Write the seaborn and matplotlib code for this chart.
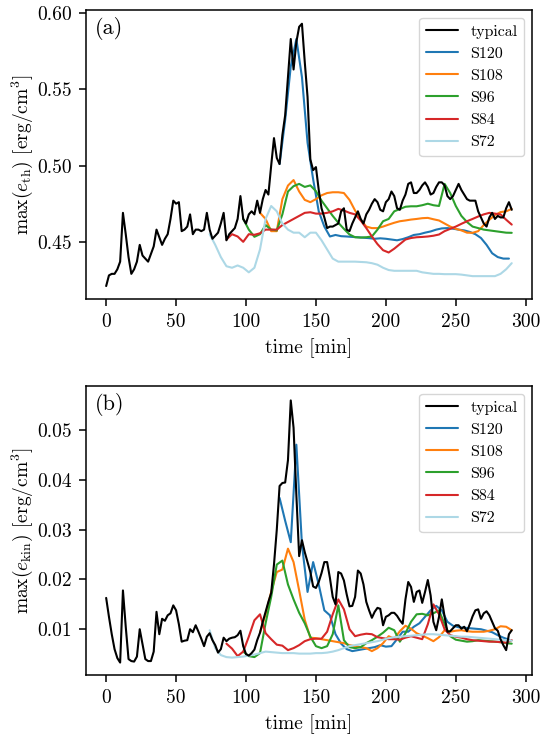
import numpy as np
import seaborn as sns
import matplotlib
matplotlib.use("Agg")
import matplotlib.pyplot as plt
from matplotlib.ticker import MultipleLocator, FormatStrFormatter

# time grids [min]
t_typical = np.arange(0, 292, 2)
t_s120 = np.arange(124, 292, 4)
t_s108 = np.arange(110, 292, 4)
t_s96 = np.arange(98, 292, 4)
t_s84 = np.arange(86, 292, 4)
t_s72 = np.arange(74, 292, 4)

# panel (a): max thermal energy density [erg/cm^3]
eth_typical = [
    0.421, 0.428, 0.429, 0.429, 0.432, 0.437, 0.469, 0.455, 0.440, 0.429,
    0.432, 0.437, 0.448, 0.441, 0.439, 0.437, 0.442, 0.447, 0.458, 0.453,
    0.448, 0.452, 0.455, 0.465, 0.477, 0.475, 0.476, 0.457, 0.458, 0.460,
    0.468, 0.455, 0.458, 0.458, 0.457, 0.458, 0.469, 0.458, 0.452, 0.454,
    0.456, 0.462, 0.469, 0.451, 0.455, 0.457, 0.459, 0.465, 0.480, 0.465,
    0.462, 0.468, 0.470, 0.468, 0.477, 0.469, 0.478, 0.484, 0.481, 0.500,
    0.518, 0.505, 0.501, 0.520, 0.533, 0.558, 0.583, 0.563, 0.581, 0.591,
    0.593, 0.568, 0.545, 0.504, 0.497, 0.499, 0.484, 0.472, 0.466, 0.459,
    0.460, 0.460, 0.461, 0.462, 0.470, 0.472, 0.458, 0.457, 0.462, 0.466,
    0.470, 0.465, 0.462, 0.468, 0.471, 0.475, 0.478, 0.476, 0.471, 0.470,
    0.476, 0.478, 0.483, 0.480, 0.472, 0.471, 0.477, 0.481, 0.488, 0.489,
    0.482, 0.482, 0.484, 0.487, 0.489, 0.486, 0.481, 0.482, 0.486, 0.489,
    0.489, 0.487, 0.480, 0.478, 0.480, 0.484, 0.488, 0.484, 0.481, 0.478,
    0.477, 0.477, 0.477, 0.470, 0.466, 0.462, 0.460, 0.466, 0.469, 0.465,
    0.467, 0.466, 0.466, 0.472, 0.476, 0.471,
]
eth_s120 = [
    0.501, 0.530, 0.565, 0.583, 0.558, 0.515, 0.491, 0.470, 0.460, 0.4535,
    0.4545, 0.4537, 0.4535, 0.4532, 0.453, 0.4527, 0.4524, 0.452, 0.4523, 0.452,
    0.4515, 0.451, 0.4518, 0.453, 0.4545, 0.455, 0.456, 0.4568, 0.458, 0.4588,
    0.459, 0.4586, 0.458, 0.4575, 0.4565, 0.455, 0.4525, 0.448, 0.4425, 0.440,
    0.439, 0.439,
]
eth_s108 = [
    0.469, 0.465, 0.457, 0.457, 0.478, 0.4869, 0.4905, 0.483, 0.4775, 0.476,
    0.478, 0.4805, 0.482, 0.4825, 0.4825, 0.482, 0.4775, 0.4705, 0.4645, 0.460,
    0.459, 0.459, 0.460, 0.4613, 0.4625, 0.4635, 0.464, 0.4646, 0.465, 0.4655,
    0.4657, 0.4648, 0.464, 0.462, 0.460, 0.4585, 0.4575, 0.456, 0.4559, 0.457,
    0.461, 0.4645, 0.4675, 0.4695, 0.470, 0.4716,
]
eth_s96 = [
    0.465, 0.458, 0.4533, 0.455, 0.461, 0.458, 0.4575, 0.468, 0.483, 0.4865,
    0.488, 0.486, 0.487, 0.4832, 0.477, 0.472, 0.467, 0.4625, 0.4585, 0.4548,
    0.453, 0.4528, 0.453, 0.4535, 0.458, 0.4635, 0.465, 0.470, 0.4715, 0.473,
    0.4733, 0.4733, 0.474, 0.475, 0.474, 0.4735, 0.488, 0.482, 0.4735, 0.467,
    0.463, 0.460, 0.459, 0.458, 0.4575, 0.457, 0.4565, 0.456, 0.4559,
]
eth_s84 = [
    0.4515, 0.455, 0.4535, 0.450, 0.455, 0.4546, 0.4556, 0.458, 0.458, 0.458,
    0.461, 0.463, 0.465, 0.467, 0.469, 0.4694, 0.4685, 0.4685, 0.469, 0.470,
    0.4716, 0.4705, 0.469, 0.468, 0.464, 0.459, 0.4535, 0.4485, 0.4445, 0.443,
    0.4455, 0.4485, 0.4515, 0.4525, 0.453, 0.4532, 0.4535, 0.454, 0.4548, 0.457,
    0.4585, 0.460, 0.4618, 0.4635, 0.465, 0.4666, 0.468, 0.469, 0.4685, 0.468,
    0.4645, 0.4613,
]
eth_s72 = [
    0.455, 0.448, 0.440, 0.434, 0.433, 0.4345, 0.433, 0.430, 0.433, 0.445,
    0.465, 0.4735, 0.470, 0.462, 0.458, 0.456, 0.456, 0.453, 0.456, 0.456,
    0.451, 0.445, 0.439, 0.437, 0.437, 0.437, 0.437, 0.4368, 0.4366, 0.436,
    0.435, 0.433, 0.4315, 0.431, 0.431, 0.431, 0.431, 0.431, 0.430, 0.4295,
    0.429, 0.429, 0.4288, 0.4288, 0.4288, 0.4285, 0.428, 0.4275, 0.4275, 0.4275,
    0.4275, 0.4275, 0.429, 0.432, 0.436,
]

# panel (b): max kinetic energy density [erg/cm^3]
ekin_typical = [
    0.0163, 0.0125, 0.0090, 0.0060, 0.0042, 0.0033, 0.0178, 0.0105, 0.0040, 0.0036,
    0.0035, 0.0045, 0.0100, 0.0070, 0.0040, 0.0036, 0.0036, 0.0055, 0.0135, 0.0090,
    0.0121, 0.0117, 0.0128, 0.0132, 0.0148, 0.0138, 0.0110, 0.0075, 0.0077, 0.0078,
    0.0100, 0.0094, 0.0108, 0.0095, 0.0081, 0.0066, 0.0085, 0.0092, 0.0078, 0.0068,
    0.0053, 0.0060, 0.0083, 0.0076, 0.0081, 0.0083, 0.0084, 0.0088, 0.0097, 0.0066,
    0.0050, 0.0047, 0.0052, 0.0059, 0.0078, 0.0093, 0.0115, 0.0135, 0.0155, 0.0173,
    0.0230, 0.0300, 0.0388, 0.0394, 0.0395, 0.0440, 0.0560, 0.0505, 0.0370, 0.0247,
    0.0279, 0.0255, 0.0235, 0.0215, 0.0186, 0.0183, 0.0195, 0.0213, 0.0235, 0.0235,
    0.0203, 0.0165, 0.0150, 0.0215, 0.0212, 0.0198, 0.0170, 0.0146, 0.0147, 0.0165,
    0.0218, 0.0212, 0.0190, 0.0155, 0.0138, 0.0123, 0.0135, 0.0143, 0.0141, 0.0108,
    0.0125, 0.0128, 0.0133, 0.0133, 0.0127, 0.0118, 0.0111, 0.0160, 0.0195, 0.0185,
    0.0155, 0.0175, 0.0178, 0.0153, 0.0175, 0.0199, 0.0168, 0.0115, 0.0098, 0.0125,
    0.0160, 0.0125, 0.0095, 0.0096, 0.0102, 0.0108, 0.0108, 0.0101, 0.0105, 0.0096,
    0.0110, 0.0126, 0.0138, 0.0140, 0.0121, 0.0132, 0.0136, 0.0128, 0.0115, 0.0102,
    0.0097, 0.0080, 0.0068, 0.0058, 0.0090, 0.0098,
]
ekin_s120 = [
    0.0364, 0.0318, 0.0275, 0.0471, 0.0270, 0.0175, 0.0235, 0.0190, 0.0138, 0.0128,
    0.0090, 0.0071, 0.0060, 0.0056, 0.0058, 0.0060, 0.0062, 0.0064, 0.0068, 0.0065,
    0.0066, 0.0080, 0.0095, 0.0095, 0.0105, 0.0112, 0.0125, 0.0138, 0.0147, 0.0138,
    0.0115, 0.0107, 0.0104, 0.0103, 0.0102, 0.0101, 0.0100, 0.0097, 0.0094, 0.0088,
    0.0083, 0.0079,
]
ekin_s108 = [
    0.0093, 0.0130, 0.0175, 0.0215, 0.0220, 0.0262, 0.0235, 0.0178, 0.0119, 0.0083,
    0.0082, 0.0080, 0.0078, 0.0076, 0.0074, 0.0072, 0.0068, 0.0066, 0.0064, 0.0062,
    0.0056, 0.0062, 0.0072, 0.0086, 0.0081, 0.0096, 0.0107, 0.0101, 0.0092, 0.0087,
    0.0082, 0.0076, 0.0084, 0.0098, 0.0095, 0.0097, 0.0098, 0.0096, 0.0095, 0.0095,
    0.0095, 0.0097, 0.0100, 0.0106, 0.0105, 0.0098,
]
ekin_s96 = [
    0.0055, 0.0046, 0.0044, 0.0052, 0.0112, 0.0165, 0.0230, 0.0238, 0.0190, 0.0160,
    0.0133, 0.0112, 0.0085, 0.0066, 0.0062, 0.0066, 0.0090, 0.0148, 0.0078, 0.0064,
    0.0062, 0.0064, 0.0072, 0.0078, 0.0085, 0.0093, 0.0103, 0.0098, 0.0075, 0.0092,
    0.0115, 0.0130, 0.0131, 0.0128, 0.0132, 0.0138, 0.0110, 0.0086, 0.0079, 0.0077,
    0.0075, 0.0076, 0.0078, 0.0077, 0.0076, 0.0075, 0.0074, 0.0072, 0.0071,
]
ekin_s84 = [
    0.0071, 0.0061, 0.0046, 0.0055, 0.0085, 0.0118, 0.0130, 0.0092, 0.0080, 0.0069,
    0.0067, 0.0058, 0.0062, 0.0068, 0.0076, 0.0080, 0.0081, 0.0081, 0.0095, 0.0130,
    0.0160, 0.0140, 0.0100, 0.0086, 0.0089, 0.0091, 0.0090, 0.0084, 0.0082, 0.0080,
    0.0080, 0.0079, 0.0083, 0.0086, 0.0083, 0.0080, 0.0110, 0.0150, 0.0130, 0.0100,
    0.0088, 0.0085, 0.0083, 0.0080, 0.0078, 0.0077, 0.0076, 0.0075, 0.0075, 0.0074,
    0.0073, 0.0078,
]
ekin_s72 = [
    0.0098, 0.0062, 0.0048, 0.0044, 0.0043, 0.0044, 0.0045, 0.0047, 0.0049, 0.0052,
    0.0055, 0.0054, 0.0053, 0.0052, 0.0052, 0.0052, 0.0051, 0.0051, 0.0051, 0.0052,
    0.0052, 0.0053, 0.0055, 0.0058, 0.0062, 0.0066, 0.0068, 0.0070, 0.0072, 0.0074,
    0.0076, 0.0079, 0.0082, 0.0084, 0.0085, 0.0086, 0.0087, 0.0088, 0.0089, 0.0090,
    0.0090, 0.0089, 0.0088, 0.0087, 0.0086, 0.0085, 0.0085, 0.0084, 0.0083, 0.0082,
    0.0081, 0.0080, 0.0079, 0.0078, 0.0077,
]

run_names = ["typical", "S120", "S108", "S96", "S84", "S72"]
run_colors = ["black", "#1f77b4", "#ff7f0e", "#2ca02c", "#d62728", "lightblue"]
run_times = [t_typical, t_s120, t_s108, t_s96, t_s84, t_s72]
eth_runs = [eth_typical, eth_s120, eth_s108, eth_s96, eth_s84, eth_s72]
ekin_runs = [ekin_typical, ekin_s120, ekin_s108, ekin_s96, ekin_s84, ekin_s72]

sns.set_style("ticks")
plt.rcParams.update({
    "font.family": "serif",
    "font.serif": ["cmr10"],
    "mathtext.fontset": "cm",
    "axes.unicode_minus": False,
    "axes.edgecolor": "black",
    "axes.labelcolor": "black",
    "text.color": "black",
    "xtick.color": "black",
    "ytick.color": "black",
    "axes.linewidth": 1.1,
    "xtick.major.size": 5,
    "ytick.major.size": 5,
    "xtick.major.width": 1.1,
    "ytick.major.width": 1.1,
    "xtick.major.pad": 5,
    "ytick.major.pad": 5,
    "axes.labelpad": 5,
    "axes.labelsize": 14,
    "xtick.labelsize": 14,
    "ytick.labelsize": 14,
})

fig, axes = plt.subplots(2, 1, figsize=(5.47, 7.42), dpi=100)
fig.subplots_adjust(left=0.157, right=0.9726, top=0.9865, bottom=0.0903, hspace=0.301)

panels = [
    (axes[0], eth_runs, "(a)", r"$\mathrm{max}(e_{\mathrm{th}})$ [erg/cm$^3$]", (0.4125, 0.602), 0.05),
    (axes[1], ekin_runs, "(b)", r"$\mathrm{max}(e_{\mathrm{kin}})$ [erg/cm$^3$]", (0.0008, 0.0589), 0.01),
]

for ax, runs, tag, ylab, ylim, ystep in panels:
    for i, (name, col, t, vals) in enumerate(zip(run_names, run_colors, run_times, runs)):
        sns.lineplot(x=t, y=vals, ax=ax, color=col, label=name, lw=1.5,
                     estimator=None, zorder=3 if i == 0 else 2)
    ax.set_xlim(-14.5, 304.5)
    ax.set_ylim(*ylim)
    ax.yaxis.set_major_locator(MultipleLocator(ystep))
    ax.yaxis.set_major_formatter(FormatStrFormatter("%.2f"))
    ax.set_xlabel("time [min]")
    ax.set_ylabel(ylab, labelpad=1.5)
    ax.text(0.02, 0.975, tag, transform=ax.transAxes, ha="left", va="top", fontsize=16)
    ax.legend(loc="upper right", fontsize=11.5)

fig.savefig("out.png", dpi=100)
